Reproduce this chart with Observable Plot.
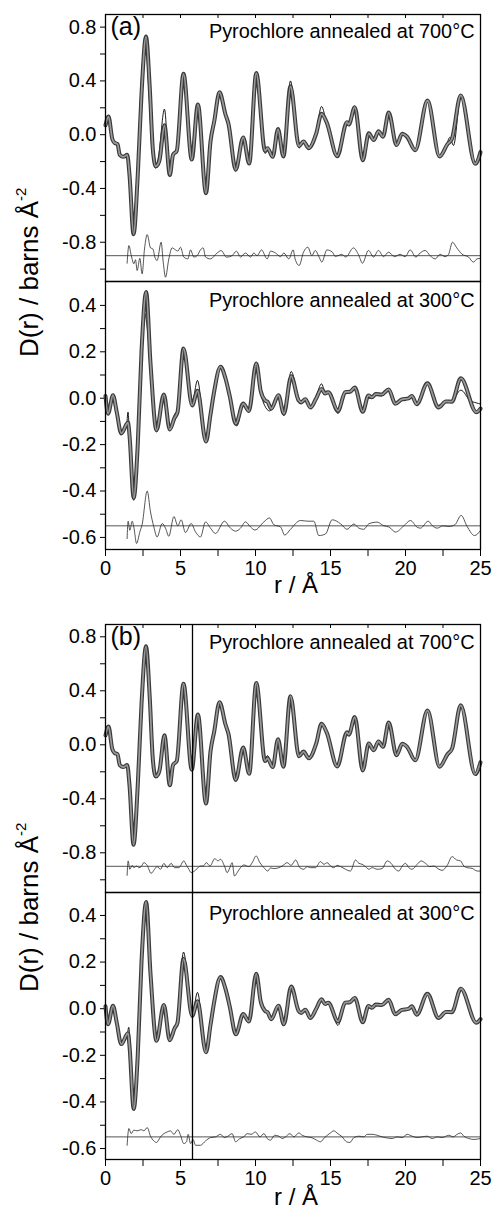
<!DOCTYPE html>
<html>
<head>
<meta charset="utf-8">
<script src="https://cdn.jsdelivr.net/npm/d3@7"></script>
<script src="https://cdn.jsdelivr.net/npm/@observablehq/plot@0.6"></script>
<style>
html, body { margin: 0; padding: 0; background: #fff; }
#root { position: relative; width: 493px; height: 1211px; overflow: hidden; font-family: "Liberation Sans", Arial, sans-serif; }
#root > svg { position: absolute; left: 0; }
</style>
</head>
<body>
<div id="root"></div>
<script>
// ---------- data ----------
const xTicks = [0, 2.5, 5, 7.5, 10, 12.5, 15, 17.5, 20, 22.5, 25];
const xTickLabels = [0, 5, 10, 15, 20, 25];
const xTopTicks = [2.5, 5, 7.5, 10, 12.5, 15, 17.5, 20, 22.5];
const yTicksWide = [-1.0, -0.8, -0.6, -0.4, -0.2, 0, 0.2, 0.4, 0.6, 0.8];
const yLabelsWide = [-0.8, -0.4, 0, 0.4, 0.8];
const yTicksNarrow = [-0.6, -0.5, -0.4, -0.3, -0.2, -0.1, 0, 0.1, 0.2, 0.3, 0.4];
const yLabelsNarrow = [-0.6, -0.4, -0.2, 0, 0.2, 0.4];
const title700 = "Pyrochlore annealed at 700°C";
const title300 = "Pyrochlore annealed at 300°C";
const baseline700 = -0.9;
const baseline300 = -0.55;
const cutoffR = 5.8;

// experimental D(r), 700 °C sample  [r, D]
const data700 = [[0,0.07],[0.2,0.135],[0.45,-0.03],[0.6,-0.06],[0.8,-0.07],[0.95,-0.15],[1.2,-0.165],[1.45,-0.15],[1.6,-0.3],[1.87,-0.74],[2.15,-0.3],[2.4,0.3],[2.7,0.73],[2.95,0.35],[3.15,-0.1],[3.35,-0.235],[3.5,-0.22],[3.6,-0.19],[3.93,0.07],[4.29,-0.3],[4.5,-0.15],[4.75,-0.12],[5.2,0.453],[5.75,-0.185],[6.16,0.225],[6.7,-0.435],[7.0,-0.05],[7.25,0.1],[7.6,0.316],[8.0,0.15],[8.2,0.08],[8.68,-0.26],[9.18,-0.02],[9.58,-0.215],[10.05,0.458],[10.64,-0.12],[10.8,-0.1],[11.15,-0.165],[11.5,0.042],[11.86,-0.162],[12.33,0.36],[12.9,-0.085],[13.2,-0.05],[13.55,-0.1],[14.05,0.01],[14.4,0.155],[14.75,0.09],[15.45,-0.16],[16.1,0.093],[16.22,0.075],[16.62,0.205],[17.15,-0.19],[17.55,0.01],[17.88,-0.04],[18.2,0.025],[18.5,-0.015],[18.88,0.165],[19.4,-0.077],[19.78,0.007],[20.1,-0.015],[20.65,-0.115],[21.47,0.254],[22.27,-0.162],[22.8,-0.07],[23.1,-0.03],[23.68,0.292],[24.65,-0.217],[25,-0.13]];
// fit (a), 700 °C
const fit700a = [[0,0.07],[0.2,0.135],[0.45,-0.03],[0.6,-0.06],[0.8,-0.075],[0.95,-0.15],[1.2,-0.165],[1.45,-0.15],[1.6,-0.3],[1.87,-0.745],[2.15,-0.2],[2.4,0.43],[2.65,0.72],[2.9,0.3],[3.1,-0.12],[3.35,-0.25],[3.55,-0.15],[3.93,0.19],[4.29,-0.31],[4.5,-0.16],[4.75,-0.11],[5.2,0.45],[5.75,-0.18],[6.16,0.22],[6.7,-0.43],[7.0,-0.06],[7.25,0.09],[7.6,0.31],[8.0,0.16],[8.2,0.07],[8.68,-0.27],[9.18,-0.03],[9.58,-0.22],[10.05,0.46],[10.64,-0.14],[10.8,-0.12],[11.15,-0.17],[11.5,0.05],[11.86,-0.17],[12.33,0.4],[12.9,-0.1],[13.2,-0.06],[13.55,-0.11],[14.05,0.02],[14.4,0.21],[14.75,0.08],[15.45,-0.17],[16.1,0.1],[16.22,0.09],[16.62,0.2],[17.15,-0.2],[17.55,0.02],[17.88,-0.04],[18.2,0.03],[18.5,-0.02],[18.88,0.16],[19.4,-0.08],[19.78,0.0],[20.1,-0.02],[20.65,-0.12],[21.47,0.25],[22.27,-0.16],[22.7,-0.09],[22.95,-0.02],[23.2,-0.08],[23.68,0.28],[24.65,-0.2],[25,-0.15]];
// difference curve (a), 700 °C (offset to baseline)
const diff700a = [[1.44,-0.956],[1.56,-0.825],[1.72,-0.9],[1.89,-0.96],[2.0,-0.93],[2.11,-1.01],[2.29,-0.92],[2.44,-1.035],[2.6,-0.85],[2.78,-0.743],[3.0,-0.842],[3.16,-0.85],[3.29,-0.91],[3.44,-0.936],[3.71,-0.8],[3.85,-0.95],[4.0,-1.06],[4.22,-0.925],[4.44,-0.842],[4.67,-0.857],[4.82,-0.866],[5.0,-0.837],[5.22,-0.91],[5.49,-0.924],[5.67,-0.857],[5.89,-0.91],[6.11,-0.9],[6.33,-0.857],[6.51,-0.842],[6.67,-0.91],[7.0,-0.924],[7.44,-0.88],[7.71,-0.862],[8.07,-0.911],[8.44,-0.9],[8.73,-0.866],[9.0,-0.91],[9.33,-0.88],[9.67,-0.91],[9.89,-0.88],[10.11,-0.9],[10.4,-0.857],[10.78,-0.924],[11.0,-0.866],[11.33,-0.88],[11.67,-0.907],[11.89,-0.88],[12.22,-0.924],[12.51,-0.857],[12.64,-0.924],[12.91,-0.973],[13.2,-0.874],[13.49,-0.837],[13.76,-0.9],[13.98,-0.861],[14.24,-0.91],[14.42,-0.948],[14.76,-0.857],[15.13,-0.874],[15.31,-0.905],[15.5,-0.9],[15.75,-0.89],[16.02,-0.91],[16.53,-0.842],[16.87,-0.893],[17.13,-0.956],[17.53,-0.861],[17.87,-0.91],[18.2,-0.861],[18.53,-0.907],[18.87,-0.874],[19.27,-0.907],[19.64,-0.89],[19.98,-0.907],[20.31,-0.857],[20.69,-0.91],[20.98,-0.88],[21.31,-0.861],[21.64,-0.9],[21.98,-0.924],[22.31,-0.89],[22.64,-0.907],[22.87,-0.89],[23.13,-0.8],[23.42,-0.842],[23.76,-0.888],[24.2,-0.91],[24.53,-0.948],[24.76,-0.924],[25.0,-0.92]];
// fit (b), 700 °C
const fit700b = [[0,0.07],[0.2,0.135],[0.45,-0.03],[0.6,-0.06],[0.8,-0.07],[0.95,-0.15],[1.2,-0.165],[1.45,-0.15],[1.6,-0.32],[1.87,-0.74],[2.15,-0.3],[2.4,0.3],[2.7,0.73],[2.95,0.35],[3.15,-0.08],[3.35,-0.235],[3.5,-0.2],[3.6,-0.17],[3.93,0.06],[4.29,-0.3],[4.5,-0.15],[4.75,-0.12],[5.2,0.45],[5.75,-0.14],[6.16,0.225],[6.7,-0.44],[7.0,-0.05],[7.25,0.1],[7.6,0.316],[8.0,0.15],[8.2,0.08],[8.68,-0.24],[9.18,-0.02],[9.58,-0.22],[10.05,0.455],[10.64,-0.1],[10.8,-0.08],[11.15,-0.17],[11.5,0.04],[11.86,-0.17],[12.33,0.36],[12.9,-0.085],[13.2,-0.05],[13.55,-0.1],[14.05,0.01],[14.4,0.155],[14.75,0.09],[15.45,-0.16],[16.1,0.093],[16.22,0.075],[16.62,0.205],[17.15,-0.19],[17.55,0.01],[17.88,-0.04],[18.2,0.025],[18.5,-0.015],[18.88,0.165],[19.4,-0.077],[19.78,0.007],[20.1,-0.015],[20.65,-0.115],[21.47,0.254],[22.27,-0.162],[22.8,-0.07],[23.1,-0.03],[23.68,0.292],[24.65,-0.217],[25,-0.13]];
// difference curve (b), 700 °C
const diff700b = [[1.44,-0.967],[1.51,-0.86],[1.62,-0.922],[1.78,-0.893],[1.89,-0.91],[2.07,-0.898],[2.22,-0.91],[2.38,-0.902],[2.56,-0.873],[2.78,-0.893],[3.04,-0.952],[3.27,-0.922],[3.44,-0.902],[3.67,-0.922],[3.89,-0.878],[4.11,-0.91],[4.38,-0.878],[4.6,-0.91],[4.89,-0.91],[5.22,-0.86],[5.4,-0.893],[5.56,-0.922],[5.71,-0.947],[5.93,-0.935],[6.11,-0.917],[6.33,-0.898],[6.51,-0.898],[6.73,-0.873],[6.96,-0.898],[7.29,-0.843],[7.49,-0.86],[7.67,-0.848],[7.93,-0.898],[8.11,-0.947],[8.29,-0.91],[8.44,-0.873],[8.6,-0.972],[8.78,-0.947],[9.0,-0.91],[9.22,-0.89],[9.56,-0.902],[9.78,-0.873],[10.04,-0.823],[10.29,-0.873],[10.56,-0.91],[10.82,-0.935],[11.0,-0.912],[11.22,-0.917],[11.56,-0.91],[11.84,-0.893],[12.11,-0.873],[12.38,-0.893],[12.67,-0.853],[12.96,-0.91],[13.22,-0.922],[13.44,-0.902],[13.67,-0.91],[14.0,-0.91],[14.33,-0.865],[14.56,-0.885],[14.78,-0.873],[15.0,-0.898],[15.22,-0.91],[15.44,-0.893],[15.67,-0.902],[16.0,-0.922],[16.33,-0.935],[16.67,-0.853],[16.89,-0.878],[17.11,-0.885],[17.33,-0.902],[17.56,-0.922],[17.78,-0.91],[18.11,-0.922],[18.44,-0.917],[18.78,-0.86],[19.04,-0.878],[19.33,-0.922],[19.56,-0.935],[19.78,-0.898],[20.0,-0.878],[20.22,-0.91],[20.44,-0.922],[20.78,-0.885],[21.04,-0.86],[21.33,-0.878],[21.62,-0.902],[21.89,-0.898],[22.16,-0.917],[22.44,-0.93],[22.78,-0.893],[23.11,-0.828],[23.4,-0.853],[23.67,-0.86],[23.89,-0.898],[24.11,-0.91],[24.44,-0.915],[24.78,-0.935],[25.0,-0.935]];

// experimental D(r), 300 °C sample
const data300 = [[0,0.01],[0.17,-0.067],[0.5,0.013],[0.75,-0.06],[1.05,-0.152],[1.5,-0.105],[1.6,-0.16],[1.88,-0.43],[2.15,-0.2],[2.4,0.2],[2.71,0.458],[3.0,0.15],[3.4,-0.138],[3.89,0.016],[4.28,-0.135],[4.6,-0.085],[4.8,-0.06],[5.2,0.214],[5.78,-0.031],[6.13,0.032],[6.7,-0.187],[7.0,-0.07],[7.22,0.02],[7.67,0.136],[8.0,0.085],[8.28,0.01],[8.69,-0.11],[9.18,-0.023],[9.56,-0.055],[10.05,0.15],[10.35,0.03],[10.65,-0.01],[10.8,-0.015],[11.05,-0.045],[11.53,0.013],[11.89,-0.067],[12.38,0.095],[12.87,-0.009],[13.05,-0.018],[13.32,-0.004],[13.66,-0.04],[14.05,0.0],[14.4,0.04],[14.64,0.02],[14.85,0.026],[15.5,-0.055],[15.98,0.026],[16.3,0.028],[16.62,0.046],[17.15,-0.058],[17.53,0.012],[17.76,0.004],[18.02,0.018],[18.42,0.016],[18.88,0.038],[19.32,-0.024],[19.76,-0.005],[20.2,-0.001],[20.42,0.01],[20.75,-0.026],[21.46,0.064],[22.2,-0.04],[22.7,-0.014],[23.09,-0.015],[23.69,0.086],[24.72,-0.06],[25,-0.045]];
// fit (a), 300 °C
const fit300a = [[0,0.01],[0.17,-0.07],[0.5,0.015],[0.75,-0.06],[1.05,-0.155],[1.4,-0.12],[1.5,-0.06],[1.62,-0.19],[1.88,-0.44],[2.15,-0.18],[2.35,0.15],[2.58,0.37],[2.85,0.26],[3.1,0.02],[3.4,-0.145],[3.89,0.02],[4.28,-0.14],[4.6,-0.07],[4.8,-0.05],[5.2,0.215],[5.78,-0.02],[6.13,0.077],[6.7,-0.185],[7.0,-0.06],[7.22,0.02],[7.67,0.13],[8.0,0.09],[8.28,0.0],[8.75,-0.12],[9.18,-0.03],[9.56,-0.06],[10.05,0.145],[10.35,0.02],[10.6,-0.03],[10.95,-0.055],[11.53,0.0],[11.89,-0.075],[12.38,0.115],[12.87,0.0],[13.05,-0.02],[13.32,-0.01],[13.66,-0.04],[14.05,0.01],[14.4,0.062],[14.64,0.03],[14.85,0.03],[15.5,-0.066],[15.98,0.02],[16.3,0.03],[16.62,0.05],[17.15,-0.06],[17.53,0.0],[17.76,0.0],[18.02,0.012],[18.42,0.01],[18.88,0.035],[19.32,-0.02],[19.76,-0.01],[20.2,0.0],[20.42,0.005],[20.75,-0.02],[21.46,0.058],[22.2,-0.03],[22.7,-0.015],[23.09,-0.012],[23.69,0.035],[24.3,-0.01],[24.72,-0.02],[25,-0.025]];
// difference curve (a), 300 °C
const diff300a = [[1.44,-0.605],[1.51,-0.53],[1.62,-0.569],[1.78,-0.53],[1.9,-0.56],[2.07,-0.626],[2.29,-0.576],[2.44,-0.545],[2.78,-0.4],[3.0,-0.49],[3.22,-0.554],[3.44,-0.598],[3.78,-0.54],[4.0,-0.56],[4.22,-0.595],[4.56,-0.51],[4.82,-0.55],[5.04,-0.524],[5.33,-0.579],[5.71,-0.54],[6.0,-0.576],[6.33,-0.598],[6.67,-0.533],[7.0,-0.56],[7.33,-0.583],[7.93,-0.53],[8.33,-0.56],[8.67,-0.573],[9.0,-0.56],[9.33,-0.533],[9.67,-0.555],[9.96,-0.568],[10.56,-0.533],[10.93,-0.516],[11.22,-0.545],[11.67,-0.555],[11.95,-0.59],[12.33,-0.565],[13.0,-0.527],[13.5,-0.53],[13.89,-0.53],[14.22,-0.592],[14.67,-0.585],[15.11,-0.524],[15.67,-0.541],[16.1,-0.565],[16.56,-0.542],[16.89,-0.56],[17.22,-0.565],[17.56,-0.541],[18.11,-0.534],[18.56,-0.55],[18.9,-0.555],[19.33,-0.577],[19.89,-0.55],[20.33,-0.527],[20.78,-0.556],[21.0,-0.56],[21.51,-0.53],[21.8,-0.55],[22.11,-0.56],[22.5,-0.55],[22.9,-0.553],[23.3,-0.545],[23.71,-0.505],[24.11,-0.553],[24.6,-0.592],[25.0,-0.57]];
// fit (b), 300 °C
const fit300b = [[0,0.01],[0.17,-0.067],[0.5,0.013],[0.75,-0.06],[1.05,-0.152],[1.45,-0.11],[1.55,-0.08],[1.65,-0.16],[1.88,-0.43],[2.15,-0.2],[2.4,0.19],[2.71,0.455],[3.0,0.14],[3.4,-0.14],[3.89,0.016],[4.28,-0.14],[4.6,-0.08],[4.8,-0.05],[5.2,0.243],[5.78,-0.03],[6.13,0.07],[6.7,-0.19],[7.0,-0.07],[7.22,0.02],[7.67,0.136],[8.0,0.085],[8.28,0.01],[8.69,-0.115],[9.18,-0.023],[9.56,-0.05],[10.05,0.152],[10.35,0.03],[10.65,-0.01],[10.8,-0.015],[11.05,-0.05],[11.53,0.013],[11.89,-0.07],[12.38,0.1],[12.87,-0.009],[13.05,-0.018],[13.32,-0.004],[13.66,-0.04],[14.05,0.0],[14.4,0.043],[14.64,0.025],[14.85,0.03],[15.5,-0.072],[15.98,0.025],[16.3,0.028],[16.62,0.05],[17.15,-0.058],[17.53,0.012],[17.76,0.004],[18.02,0.018],[18.42,0.016],[18.88,0.038],[19.32,-0.024],[19.76,-0.005],[20.2,-0.001],[20.42,0.01],[20.75,-0.026],[21.46,0.064],[22.2,-0.04],[22.7,-0.014],[23.09,-0.015],[23.69,0.086],[24.72,-0.06],[25,-0.045]];
// difference curve (b), 300 °C
const diff300b = [[1.44,-0.586],[1.56,-0.514],[1.71,-0.536],[1.89,-0.521],[2.11,-0.524],[2.38,-0.519],[2.56,-0.524],[2.78,-0.51],[3.0,-0.547],[3.22,-0.567],[3.4,-0.574],[3.67,-0.55],[3.89,-0.536],[4.11,-0.529],[4.33,-0.524],[4.56,-0.539],[4.82,-0.519],[5.0,-0.543],[5.22,-0.579],[5.4,-0.571],[5.51,-0.539],[5.67,-0.579],[5.84,-0.561],[6.0,-0.586],[6.33,-0.586],[6.67,-0.567],[7.0,-0.553],[7.33,-0.55],[7.67,-0.539],[7.93,-0.553],[8.16,-0.547],[8.44,-0.536],[8.67,-0.571],[8.96,-0.557],[9.22,-0.55],[9.44,-0.536],[9.71,-0.539],[10.0,-0.529],[10.29,-0.55],[10.56,-0.536],[10.78,-0.557],[11.0,-0.564],[11.27,-0.543],[11.56,-0.547],[11.78,-0.557],[12.0,-0.55],[12.29,-0.536],[12.56,-0.55],[12.89,-0.533],[13.11,-0.543],[13.44,-0.55],[13.78,-0.554],[14.07,-0.564],[14.33,-0.571],[14.6,-0.553],[15.0,-0.533],[15.22,-0.524],[15.49,-0.536],[15.78,-0.55],[16.07,-0.571],[16.29,-0.574],[16.56,-0.553],[16.89,-0.547],[17.22,-0.55],[17.44,-0.539],[17.78,-0.539],[18.11,-0.543],[18.44,-0.55],[18.73,-0.554],[19.11,-0.557],[19.44,-0.55],[19.78,-0.553],[20.11,-0.539],[20.44,-0.547],[20.78,-0.553],[21.11,-0.55],[21.44,-0.547],[21.78,-0.557],[22.11,-0.55],[22.44,-0.553],[22.89,-0.543],[23.18,-0.55],[23.44,-0.539],[23.67,-0.533],[23.89,-0.547],[24.22,-0.557],[24.56,-0.561],[25.0,-0.557]];

// ---------- drawing ----------
const FONT = "Liberation Sans, Arial, Helvetica, sans-serif";
const near = (arr, d) => arr.some(v => Math.abs(v - d) < 1e-9);
const R = d => d[0], D = d => d[1];

function panel(o) {
  const plotH = o.height - o.marginTop - o.marginBottom;
  const marks = [
    Plot.ruleY([o.base], {stroke: "#555", strokeWidth: 1}),
    Plot.line(o.diff, {x: R, y: D, stroke: "#2a2a2a", strokeWidth: 0.8, curve: "monotone-x"}),
    Plot.line(o.fit, {x: R, y: D, stroke: "#000", strokeWidth: 0.9, curve: "monotone-x"}),
    Plot.line(o.data, {x: R, y: D, stroke: "#3a3a3a", strokeWidth: 4, curve: "monotone-x"}),
    Plot.line(o.data, {x: R, y: D, stroke: "#9a9a9a", strokeWidth: 1.7, curve: "monotone-x"}),
    Plot.text([o.title], {frameAnchor: "top-right", dx: -6, dy: o.titleDy, fontSize: 19.9, lineAnchor: "top", textAnchor: "end", fill: "#000"}),
  ];
  if (o.tag) marks.push(Plot.text([o.tag], {frameAnchor: "top-left", dx: 5, dy: 3, fontSize: 25, lineAnchor: "top", textAnchor: "start", fill: "#000"}));
  if (o.vline != null) marks.push(Plot.ruleX([o.vline], {stroke: "#000", strokeWidth: 1.3}));
  if (o.topTicks) marks.push(Plot.ruleX(xTopTicks, {stroke: "#000", strokeWidth: 1, insetBottom: plotH - 4}));
  marks.push(Plot.frame({stroke: "#000", strokeWidth: 1.3}));
  const svg = Plot.plot({
    width: 493, height: o.height,
    marginLeft: 105, marginRight: 13, marginTop: o.marginTop, marginBottom: o.marginBottom,
    style: {fontFamily: FONT, fontSize: "20px", background: "transparent", overflow: "visible", color: "#000"},
    x: {domain: [0, 25], axis: o.xAxis ? "bottom" : null, ticks: xTicks, tickSize: 7, tickPadding: 4,
        tickFormat: d => near(xTickLabels, d) ? String(d) : "", label: null},
    y: {domain: o.yDomain, ticks: o.yTicks, tickSize: 5, tickPadding: 4,
        tickFormat: d => near(o.yLabels, d) ? d.toFixed(1) : "", label: null},
    marks
  });
  svg.style.top = o.top + "px";
  return svg;
}

const root = document.getElementById("root");
root.append(
  panel({top: 0, height: 281, marginTop: 14, marginBottom: 0, yDomain: [-1.092, 0.894], yTicks: yTicksWide, yLabels: yLabelsWide,
         data: data700, fit: fit700a, diff: diff700a, base: baseline700, title: title700, titleDy: 9, tag: "(a)", topTicks: true}),
  panel({top: 281, height: 318, marginTop: 0, marginBottom: 50, yDomain: [-0.652, 0.503], yTicks: yTicksNarrow, yLabels: yLabelsNarrow,
         data: data300, fit: fit300a, diff: diff300a, base: baseline300, title: title300, titleDy: 11, xAxis: true}),
  panel({top: 610, height: 282, marginTop: 14, marginBottom: 0, yDomain: [-1.094, 0.891], yTicks: yTicksWide, yLabels: yLabelsWide,
         data: data700, fit: fit700b, diff: diff700b, base: baseline700, title: title700, titleDy: 10, tag: "(b)", topTicks: true, vline: cutoffR}),
  panel({top: 892, height: 319, marginTop: 0, marginBottom: 52, yDomain: [-0.647, 0.4985], yTicks: yTicksNarrow, yLabels: yLabelsNarrow,
         data: data300, fit: fit300b, diff: diff300b, base: baseline300, title: title300, titleDy: 13, xAxis: true, vline: cutoffR})
);

// axis titles (real text)
const NS = "http://www.w3.org/2000/svg";
const ov = document.createElementNS(NS, "svg");
ov.setAttribute("width", 493); ov.setAttribute("height", 1211);
ov.style.top = "0px"; ov.style.pointerEvents = "none";
ov.setAttribute("font-family", FONT);
function yTitle(x, y) {
  const t = document.createElementNS(NS, "text");
  t.setAttribute("transform", `translate(${x},${y}) rotate(-90)`);
  t.setAttribute("font-size", 26);
  t.textContent = "D(r) / barns Å";
  const s = document.createElementNS(NS, "tspan");
  s.setAttribute("font-size", 15); s.setAttribute("dy", -12);
  s.textContent = "-2";
  t.appendChild(s);
  ov.appendChild(t);
}
function xTitle(x, y) {
  const t = document.createElementNS(NS, "text");
  t.setAttribute("x", x); t.setAttribute("y", y);
  t.setAttribute("text-anchor", "middle"); t.setAttribute("font-size", 24);
  t.textContent = "r / Å";
  ov.appendChild(t);
}
yTitle(38, 357); yTitle(38, 992);
xTitle(296, 593); xTitle(296, 1205);
root.appendChild(ov);
</script>
</body>
</html>
